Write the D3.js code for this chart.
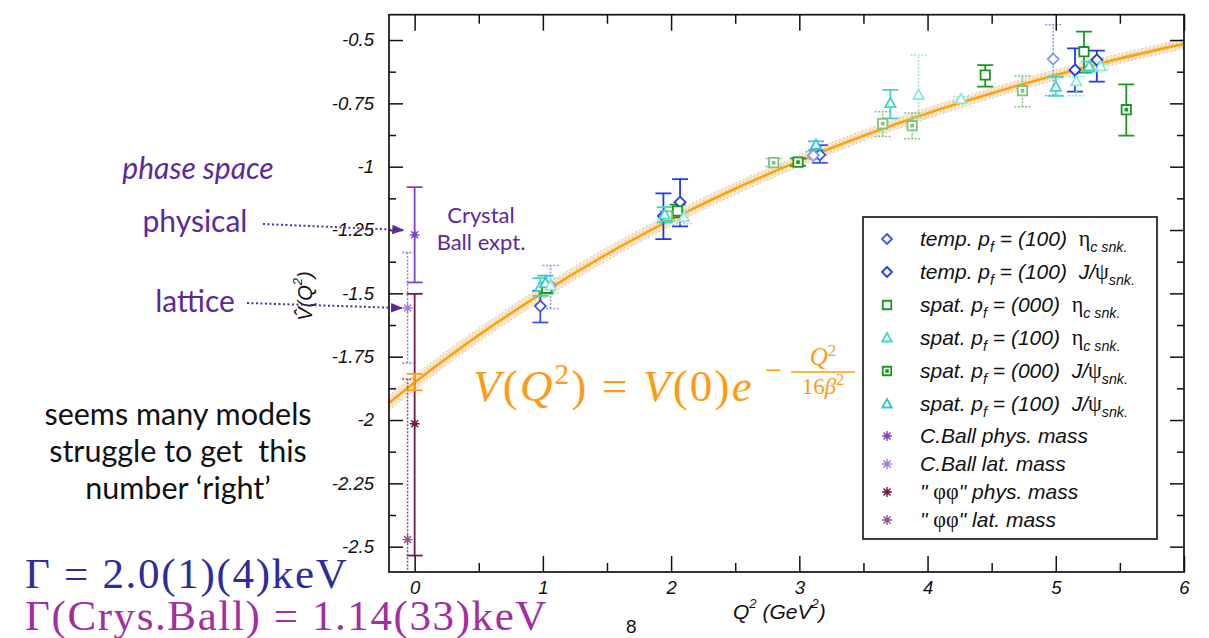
<!DOCTYPE html>
<html>
<head>
<meta charset="utf-8">
<script src="https://cdn.jsdelivr.net/npm/d3@7"></script>
<style>
  body { margin: 0; background: #fff; }
  svg { display: block; }
</style>
</head>
<body>
<div id="chart"></div>
<script>
// ---- data ----
const xTicks = [0, 1, 2, 3, 4, 5, 6];
const yTicks = [-0.5, -0.75, -1, -1.25, -1.5, -1.75, -2, -2.25, -2.5];

// fit curve V(Q^2) = V(0) exp(-Q^2 / 16 beta^2)
const fitQ2 = [-0.2, 0, 0.5, 1, 1.5, 2, 2.5, 3, 3.5, 4, 4.5, 5, 5.5, 6];
const fitV = [-1.933, -1.852, -1.665, -1.497, -1.345, -1.209, -1.087, -0.977, -0.878, -0.789, -0.710, -0.638, -0.573, -0.515];
const fitErr = [0.03, 0.029, 0.027, 0.026, 0.025, 0.024, 0.023, 0.022, 0.021, 0.021, 0.02, 0.02, 0.019, 0.019];
const fitAtZero = [[0, -1.85, -1.883, -1.818]];

// points: [Q2, value, lower, upper]; ensA = solid bars, ensB = dotted bars
const tempEtaA = [[0.98, -1.55, -1.615, -1.49], [3.16, -0.953, -0.985, -0.915]];
const tempEtaB = [[1.06, -1.47, -1.56, -1.39], [3.11, -0.955, -0.97, -0.94], [4.98, -0.575, -0.72, -0.44]];
const tempJpsiA = [[1.94, -1.195, -1.286, -1.105], [2.07, -1.14, -1.236, -1.049], [5.15, -0.618, -0.704, -0.533], [5.32, -0.578, -0.664, -0.542]];
const spat000EtaA = [[2.05, -1.175, -1.2, -1.15], [4.45, -0.638, -0.684, -0.599], [5.22, -0.546, -0.629, -0.467]];
const spat000EtaB = [[1.97, -1.195, -1.215, -1.175]];
const spat100EtaA = [[0.98, -1.475, -1.51, -1.44], [1.95, -1.19, -1.22, -1.16], [3.71, -0.75, -0.809, -0.697], [5.0, -0.685, -0.72, -0.645], [5.26, -0.605, -0.625, -0.585]];
const spat100EtaB = [[2.1, -1.2, -1.225, -1.175], [3.93, -0.717, -0.808, -0.559]];
const spat000JpsiA = [[1.03, -1.48, -1.5, -1.46], [2.99, -0.982, -0.997, -0.967], [5.55, -0.775, -0.877, -0.675]];
const spat000JpsiB = [[2.8, -0.984, -1.0, -0.968], [3.65, -0.83, -0.881, -0.783], [3.88, -0.838, -0.89, -0.788], [4.74, -0.7, -0.763, -0.642]];
const spat100JpsiA = [[1.02, -1.46, -1.49, -1.43], [3.13, -0.915, -0.935, -0.9]];
const spat100JpsiB = [[1.06, -1.47, -1.5, -1.44], [4.26, -0.734, -0.744, -0.724], [5.16, -0.664, -0.72, -0.645], [5.35, -0.605, -0.615, -0.595]];

const cballPhys = [[0, -1.269, -1.457, -1.081]];
const cballLat = [[-0.055, -1.558, -1.775, -1.339]];
const phiPhys = [[0, -2.015, -2.535, -1.502]];
const phiLat = [[-0.055, -2.472, -2.95, -1.838]];

// legend labels as [text, kind] parts
const legendLabels = [
  [['temp. p', 'i'], ['f', 'sub'], [' = (100)  ', 'i'], ['η', 'g'], ['c snk.', 'sub']],
  [['temp. p', 'i'], ['f', 'sub'], [' = (100)  J/', 'i'], ['ψ', 'g'], ['snk.', 'sub']],
  [['spat. p', 'i'], ['f', 'sub'], [' = (000)  ', 'i'], ['η', 'g'], ['c snk.', 'sub']],
  [['spat. p', 'i'], ['f', 'sub'], [' = (100)  ', 'i'], ['η', 'g'], ['c snk.', 'sub']],
  [['spat. p', 'i'], ['f', 'sub'], [' = (000)  J/', 'i'], ['ψ', 'g'], ['snk.', 'sub']],
  [['spat. p', 'i'], ['f', 'sub'], [' = (100)  J/', 'i'], ['ψ', 'g'], ['snk.', 'sub']],
  [['C.Ball phys. mass', 'i']],
  [['C.Ball lat. mass', 'i']],
  [['" ', 'i'], ['φφ', 'g'], ['" phys. mass', 'i']],
  [['" ', 'i'], ['φφ', 'g'], ['" lat. mass', 'i']]
];

// ---- styling ----
const sans = "'Liberation Sans', Arial, sans-serif";
const serif = "'Liberation Serif', 'Times New Roman', serif";
const humanist = "Lato, 'Open Sans', sans-serif";
const purple = '#5a2a9c';
const orange = '#ff9a12';

const series = [
  {ens: [tempEtaA, tempEtaB], shape: 'diamond', color: '#3c55f0', light: '#8a96f6'},
  {ens: [tempJpsiA, []], shape: 'diamond', color: '#1f3be6', light: '#8a96f6'},
  {ens: [spat000EtaA, spat000EtaB], shape: 'square', color: '#16991c', light: '#7cc57c'},
  {ens: [spat100EtaA, spat100EtaB], shape: 'triangle', color: '#3fd6c8', light: '#8fe6de'},
  {ens: [spat000JpsiA, spat000JpsiB], shape: 'squareDot', color: '#16991c', light: '#7cc57c'},
  {ens: [spat100JpsiA, spat100JpsiB], shape: 'triangle', color: '#32c9c0', light: '#8fe6de'},
  {ens: [cballPhys, []], shape: 'starFill', color: '#8241c9', light: '#8241c9', cap: 16},
  {ens: [[], cballLat], shape: 'star', color: '#a878e0', light: '#a878e0', cap: 11},
  {ens: [phiPhys, []], shape: 'starFill', color: '#6e1c4e', light: '#6e1c4e', cap: 16},
  {ens: [[], phiLat], shape: 'star', color: '#94507f', light: '#94507f', cap: 11}
];

const width = 1209, height = 638;
const margin = {top: 14.7, right: 25, bottom: 66, left: 389};

const x = d3.scaleLinear().domain([-0.2, 6]).range([margin.left, width - margin.right]);
const y = d3.scaleLinear().domain([-2.6, -0.4]).range([height - margin.bottom, margin.top]);

const svg = d3.select('#chart').append('svg')
  .attr('width', width)
  .attr('height', height);

const defs = svg.append('defs');
defs.append('clipPath').attr('id', 'plot-clip')
  .append('rect')
  .attr('x', x.range()[0]).attr('y', y.range()[1])
  .attr('width', x.range()[1] - x.range()[0])
  .attr('height', y.range()[0] - y.range()[1]);
defs.append('marker')
  .attr('id', 'arrow')
  .attr('viewBox', '0 0 10 10')
  .attr('refX', 9).attr('refY', 5)
  .attr('markerWidth', 12).attr('markerHeight', 12)
  .attr('markerUnits', 'userSpaceOnUse')
  .attr('orient', 'auto')
  .append('path').attr('d', 'M0,1L10,5L0,9Z').attr('fill', purple);

// ---- fit band + curve ----
const plot = svg.append('g').attr('clip-path', 'url(#plot-clip)');
const fitData = fitQ2.map((q, i) => ({q, v: fitV[i], e: fitErr[i]}));

plot.append('path')
  .datum(fitData)
  .attr('d', d3.area().curve(d3.curveMonotoneX)
    .x(d => x(d.q)).y0(d => y(d.v - d.e)).y1(d => y(d.v + d.e)))
  .attr('fill', '#f7e4c4').attr('opacity', 0.75);

[-1, -0.5, 0.5, 1].forEach(k => {
  plot.append('path')
    .datum(fitData)
    .attr('d', d3.line().curve(d3.curveMonotoneX).x(d => x(d.q)).y(d => y(d.v + k * d.e)))
    .attr('fill', 'none').attr('stroke', '#cdbb9c')
    .attr('stroke-width', 1).attr('stroke-dasharray', '1.5,2.5');
});

plot.append('path')
  .datum(fitData)
  .attr('d', d3.line().curve(d3.curveMonotoneX).x(d => x(d.q)).y(d => y(d.v)))
  .attr('fill', 'none').attr('stroke', '#ffa20a').attr('stroke-width', 2.6);

// ---- error bars + markers ----
function shapePath(shape, r) {
  if (shape === 'diamond') return `M0,${-r}L${r},0L0,${r}L${-r},0Z`;
  if (shape === 'square' || shape === 'squareDot') return `M${-r * 0.85},${-r * 0.85}h${r * 1.7}v${r * 1.7}h${-r * 1.7}Z`;
  if (shape === 'triangle') return `M0,${-r}L${r * 0.95},${r * 0.7}L${-r * 0.95},${r * 0.7}Z`;
  let p = '';
  for (let k = 0; k < 4; k++) {
    const a = k * Math.PI / 4, c = r * Math.cos(a), s = r * Math.sin(a);
    p += `M${-c},${-s}L${c},${s}`;
  }
  return p;
}

function drawMarker(g, shape, cx, cy, color, r) {
  const m = g.append('g').attr('transform', `translate(${cx},${cy})`);
  const star = shape.startsWith('star');
  m.append('path')
    .attr('d', shapePath(shape, r))
    .attr('fill', star ? 'none' : 'white')
    .attr('stroke', color).attr('stroke-width', star ? 1.4 : 1.8);
  if (shape === 'squareDot') m.append('rect').attr('x', -1.8).attr('y', -1.8).attr('width', 3.6).attr('height', 3.6).attr('fill', color);
  if (shape === 'starFill') m.append('circle').attr('r', r * 0.5).attr('fill', color);
}

function drawErrorBar(g, d, color, dotted, cap) {
  const cx = x(d[0]);
  const bar = g.append('g')
    .attr('stroke', color)
    .attr('stroke-width', dotted ? 1.5 : 1.8)
    .attr('stroke-dasharray', dotted ? '2,1.5' : null);
  bar.append('line').attr('x1', cx).attr('x2', cx).attr('y1', y(d[2])).attr('y2', y(d[3]));
  [d[2], d[3]].forEach(v => {
    bar.append('line').attr('x1', cx - cap / 2).attr('x2', cx + cap / 2).attr('y1', y(v)).attr('y2', y(v));
  });
}

const pointsG = plot.append('g');
series.forEach(s => {
  s.ens.forEach((pts, k) => {
    const color = k === 0 ? s.color : s.light;
    pts.forEach(d => drawErrorBar(pointsG, d, color, k === 1, s.cap || 16));
  });
});
// value at Q^2 = 0 from the fit
fitAtZero.forEach(d => drawErrorBar(pointsG, d, '#ffa20a', false, 16));
series.forEach(s => {
  s.ens.forEach((pts, k) => {
    const color = k === 0 ? s.color : s.light;
    pts.forEach(d => drawMarker(pointsG, s.shape, x(d[0]), y(d[1]), color, s.shape.startsWith('star') ? 5 : 5.5));
  });
});

// ---- axes ----
function drawTicks(axis, transform, values, len, labels, pad) {
  const g = svg.append('g')
    .attr('transform', transform)
    .call(axis.tickValues(values).tickSize(-len).tickPadding(pad)
      .tickFormat(labels ? d => String(d) : ''));
  g.select('.domain').remove();
  g.selectAll('line').attr('stroke', '#111').attr('stroke-width', 1.5);
  g.selectAll('text')
    .attr('font-family', sans).attr('font-style', 'italic')
    .attr('font-size', 18.5).attr('fill', '#111');
  return g;
}

const xMinor = xTicks.slice(0, -1).map(t => t + 0.5);
const yMinor = yTicks.slice(0, -1).map(t => t - 0.125);
const bottomY = y.range()[0], topY = y.range()[1];
const leftX = x.range()[0], rightX = x.range()[1];

drawTicks(d3.axisBottom(x), `translate(0,${bottomY})`, xTicks, 16, true, 9);
drawTicks(d3.axisBottom(x), `translate(0,${bottomY})`, xMinor, 9, false, 0);
drawTicks(d3.axisTop(x), `translate(0,${topY})`, xTicks, 16, false, 0);
drawTicks(d3.axisTop(x), `translate(0,${topY})`, xMinor, 9, false, 0);
drawTicks(d3.axisLeft(y), `translate(${leftX},0)`, yTicks, 14, true, 15);
drawTicks(d3.axisLeft(y), `translate(${leftX},0)`, yMinor, 7, false, 0);
drawTicks(d3.axisRight(y), `translate(${rightX},0)`, yTicks, 14, false, 0);
drawTicks(d3.axisRight(y), `translate(${rightX},0)`, yMinor, 7, false, 0);

svg.append('rect')
  .attr('x', leftX).attr('y', topY)
  .attr('width', rightX - leftX).attr('height', bottomY - topY)
  .attr('fill', 'none').attr('stroke', '#111').attr('stroke-width', 1.7);

// axis titles
const xTitle = svg.append('text')
  .attr('x', 733).attr('y', 619)
  .attr('font-family', sans).attr('font-style', 'italic').attr('font-size', 21).attr('fill', '#111');
xTitle.append('tspan').text('Q');
xTitle.append('tspan').text('2').attr('font-size', 13).attr('dy', -11);
xTitle.append('tspan').text(' (GeV').attr('font-size', 21).attr('dy', 11);
xTitle.append('tspan').text('2').attr('font-size', 13).attr('dy', -11);
xTitle.append('tspan').text(')').attr('font-size', 21).attr('dy', 11);

const yTitle = svg.append('text')
  .attr('transform', 'translate(312,296) rotate(-90)')
  .attr('text-anchor', 'middle')
  .attr('font-family', sans).attr('font-style', 'italic').attr('font-size', 20).attr('fill', '#111');
yTitle.append('tspan').text('V\u0302(Q');
yTitle.append('tspan').text('2').attr('font-size', 13).attr('dy', -10);
yTitle.append('tspan').text(')').attr('font-size', 20).attr('dy', 10);

// ---- legend ----
const legend = svg.append('g');
legend.append('rect')
  .attr('x', 863).attr('y', 217).attr('width', 294).attr('height', 322)
  .attr('fill', 'white').attr('stroke', '#111').attr('stroke-width', 1.6);

function richText(t, parts, size) {
  let shift = 0;
  parts.forEach(([txt, kind]) => {
    const target = kind === 'sub' ? 6 : 0;
    const ts = t.append('tspan').text(txt).attr('dy', target - shift);
    shift = target;
    if (kind === 'sub') ts.attr('font-size', size * 0.68).attr('font-style', 'italic');
    else if (kind === 'g') ts.attr('font-family', serif).attr('font-style', 'normal').attr('font-size', size * 1.05);
    else ts.attr('font-style', 'italic');
  });
}

legendLabels.forEach((parts, i) => {
  const ry = i < 6 ? 239 + 33 * i : 404 + 32 + 28 * (i - 6);
  const s = series[i];
  drawMarker(legend, s.shape, 887, ry, s.color, 5);
  const t = legend.append('text')
    .attr('x', 920).attr('y', ry + 7)
    .attr('font-family', sans).attr('font-size', 21).attr('fill', '#111')
    .style('white-space', 'pre');
  richText(t, parts, 21);
});

// ---- annotations ----
const ann = svg.append('g').attr('font-family', humanist);

ann.append('text').attr('x', 198).attr('y', 179).attr('text-anchor', 'middle')
  .attr('font-size', 30).attr('font-style', 'italic').attr('fill', purple).text('phase space');
ann.append('text').attr('x', 195).attr('y', 232).attr('text-anchor', 'middle')
  .attr('font-size', 30).attr('fill', purple).text('physical');
ann.append('text').attr('x', 195).attr('y', 312).attr('text-anchor', 'middle')
  .attr('font-size', 30).attr('fill', purple).text('lattice');

ann.append('line')
  .attr('x1', 263).attr('y1', 224).attr('x2', x(-0.09)).attr('y2', y(-1.25))
  .attr('stroke', purple).attr('stroke-width', 2).attr('stroke-dasharray', '2,2.5')
  .attr('marker-end', 'url(#arrow)');
ann.append('line')
  .attr('x1', 247).attr('y1', 303).attr('x2', x(-0.1)).attr('y2', y(cballLat[0][1]))
  .attr('stroke', purple).attr('stroke-width', 2).attr('stroke-dasharray', '2,2.5')
  .attr('marker-end', 'url(#arrow)');

ann.append('text').attr('x', 481).attr('y', 223).attr('text-anchor', 'middle')
  .attr('font-size', 22).attr('fill', purple).text('Crystal');
ann.append('text').attr('x', 481).attr('y', 250).attr('text-anchor', 'middle')
  .attr('font-size', 22).attr('fill', purple).text('Ball expt.');

['seems many models', 'struggle to get  this', 'number \u2018right\u2019'].forEach((line, i) => {
  ann.append('text').attr('x', 178).attr('y', 425 + 37 * i).attr('text-anchor', 'middle')
    .attr('font-size', 30.5).attr('fill', '#111').style('white-space', 'pre').text(line);
});

// widths
svg.append('text').attr('x', 25).attr('y', 588)
  .attr('font-family', serif).attr('font-size', 43).attr('letter-spacing', 1.7)
  .attr('fill', '#2c2c9e').style('white-space', 'pre').text('Γ = 2.0(1)(4)keV');
svg.append('text').attr('x', 25).attr('y', 630)
  .attr('font-family', serif).attr('font-size', 43).attr('letter-spacing', 1.6)
  .attr('fill', '#a22ea2').style('white-space', 'pre').text('Γ(Crys.Ball) = 1.14(33)keV');

svg.append('text').attr('x', 626).attr('y', 633)
  .attr('font-family', "'Liberation Sans Narrow', 'Liberation Sans', sans-serif")
  .attr('font-size', 19).attr('fill', '#111').text('8');

// fit formula
const formula = svg.append('text')
  .attr('x', 473).attr('y', 401)
  .attr('font-family', serif).attr('font-size', 45).attr('letter-spacing', 2.2)
  .attr('fill', orange).style('white-space', 'pre');
[['V', 'i', 0], ['(', '', 0], ['Q', 'i', 0], ['2', 's', -17], [') = ', '', 17], ['V', 'i', 0], ['(0)', '', 0], ['e', 'i', 0]]
  .forEach(([txt, kind, dy]) => {
    const ts = formula.append('tspan').text(txt).attr('dy', dy);
    if (kind === 'i') ts.attr('font-style', 'italic');
    if (kind === 's') ts.attr('font-size', 29);
  });
const fb = formula.node().getBBox();
const fEnd = Math.max(fb.x + fb.width, 760);
const expG = svg.append('g').attr('fill', orange).attr('font-family', serif);
expG.append('text').attr('x', fEnd + 5).attr('y', 380).attr('font-size', 30).text('−');
expG.append('line')
  .attr('x1', fEnd + 31).attr('x2', fEnd + 95).attr('y1', 372).attr('y2', 372)
  .attr('stroke', orange).attr('stroke-width', 1.6);
const num = expG.append('text').attr('x', fEnd + 63).attr('y', 365).attr('text-anchor', 'middle').attr('font-size', 25);
num.append('tspan').text('Q').attr('font-style', 'italic');
num.append('tspan').text('2').attr('font-size', 17).attr('dy', -9);
const den = expG.append('text').attr('x', fEnd + 63).attr('y', 394).attr('text-anchor', 'middle').attr('font-size', 23);
den.append('tspan').text('16');
den.append('tspan').text('β').attr('font-style', 'italic');
den.append('tspan').text('2').attr('font-size', 16).attr('dy', -9);
</script>
</body>
</html>
